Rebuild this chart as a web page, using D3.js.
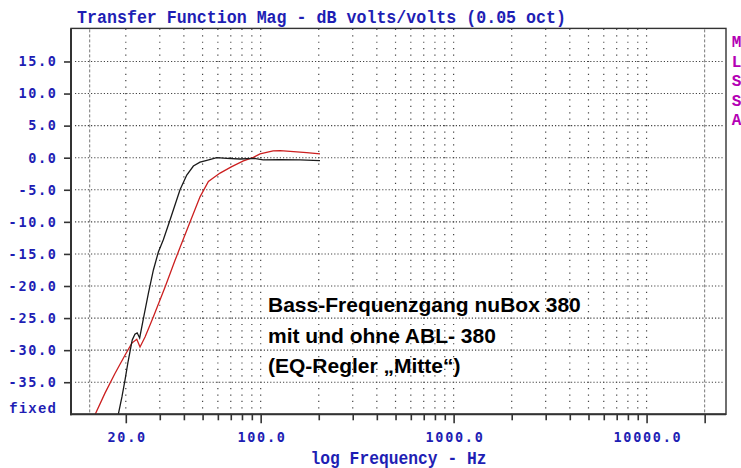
<!DOCTYPE html>
<html>
<head>
<meta charset="utf-8">
<script src="https://cdn.jsdelivr.net/npm/d3@7"></script>
<style>
  html, body { margin: 0; padding: 0; background: #fff; }
  svg { display: block; }
</style>
</head>
<body>
<script>
// ---------------- data ----------------
const seriesBlackFreq = [18.0, 19.1, 19.8, 20.5, 21.1, 21.6, 22.3, 22.9, 23.6, 24.7, 26.2, 27.8, 29.5, 31.3, 33.9, 38.2, 41.4, 44.8, 48.5, 52.6, 59.2, 66.7, 78.2, 91.7, 103, 126, 160, 203];
const seriesBlackDb   = [-41.0, -37.3, -34.7, -32.0, -30.0, -28.4, -27.5, -27.3, -28.1, -25.0, -21.1, -17.5, -14.7, -12.8, -9.7, -5.0, -2.7, -1.3, -0.7, -0.4, 0.0, -0.1, -0.2, -0.1, -0.35, -0.3, -0.35, -0.45];

const seriesRedFreq = [13.4, 15.6, 17.6, 19.8, 21.5, 22.8, 23.7, 25.2, 27.8, 32.0, 36.0, 38.2, 43.1, 48.5, 53.6, 61.6, 70.8, 81.4, 91.7, 99.3, 116, 126, 148, 173, 203];
const seriesRedDb   = [-41.0, -36.7, -33.6, -30.8, -28.9, -28.3, -29.5, -27.9, -24.8, -20.1, -16.0, -14.0, -10.0, -6.1, -3.7, -2.4, -1.4, -0.5, 0.05, 0.6, 1.05, 1.1, 0.95, 0.8, 0.6];

const yTickValues = [-35, -30, -25, -20, -15, -10, -5, 0, 5, 10, 15];
const xGridFreqs = [20, 30, 40, 50, 60, 70, 80, 90, 100, 200, 300, 400, 500, 600, 700, 800, 900, 1000, 2000, 3000, 4000, 5000, 6000, 7000, 8000, 9000, 10000];
const xTickFreqs = [20, 30, 40, 50, 60, 70, 80, 90, 100, 200, 300, 400, 500, 600, 700, 800, 900, 1000, 2000, 3000, 4000, 5000, 6000, 7000, 8000, 9000, 10000, 20000];
const xLabelFreqs = [20, 100, 1000, 10000];
const xMajorFreqs = [20, 100, 1000, 10000, 20000];
const dashedFreqs = [13, 20000];
const sideLetters = ["M", "L", "S", "S", "A"];
const titleText = "Transfer Function Mag - dB volts/volts (0.05 oct)";
const xAxisTitle = "log Frequency - Hz";
const bottomLabel = "fixed";
const noteLines = ["Bass-Frequenzgang nuBox 380", "mit und ohne ABL- 380", "(EQ-Regler \u201EMitte\u201C)"];

// ---------------- layout ----------------
const W = 741, H = 468;
const L = 71, R = 726, T = 29.4, B = 414.3;
const blue = "#1e1eb4";
const labelFont = "'DejaVu Sans Mono', monospace";
const ls = 1.7;

const svg = d3.select("body").append("svg").attr("width", W).attr("height", H);

const x = d3.scaleLog().domain([10.4, 25800]).range([L, R]);
const y = d3.scaleLinear().domain([-40, 20]).range([B, T]);
const pxPerDb = y(0) - y(1);

svg.append("defs").append("clipPath").attr("id", "plotclip")
  .append("rect").attr("x", L).attr("y", T).attr("width", R - L).attr("height", B - T);

// horizontal dotted grid
svg.append("g").selectAll("line").data(yTickValues).join("line")
  .attr("x1", L + 4).attr("x2", R - 3)
  .attr("y1", d => y(d)).attr("y2", d => y(d))
  .attr("stroke", "#444").attr("stroke-width", 1.1)
  .attr("stroke-dasharray", "1.2 2");

// vertical dotted grid: one dot per dB
svg.append("g").selectAll("line").data(xGridFreqs).join("line")
  .attr("x1", d => x(d)).attr("x2", d => x(d))
  .attr("y1", y(20) - 0.6).attr("y2", y(-40))
  .attr("stroke", "#444").attr("stroke-width", 1.2)
  .attr("stroke-dasharray", `1.2 ${pxPerDb - 1.2}`);

// dashed limit lines
svg.append("g").selectAll("line").data(dashedFreqs).join("line")
  .attr("x1", d => x(d)).attr("x2", d => x(d))
  .attr("y1", T).attr("y2", B)
  .attr("stroke", "#777").attr("stroke-width", 1)
  .attr("stroke-dasharray", "3 2");

// curves
const line = d3.line().x(d => x(d[0])).y(d => y(d[1]));
const g = svg.append("g").attr("clip-path", "url(#plotclip)");
g.append("path").datum(d3.zip(seriesRedFreq, seriesRedDb))
  .attr("d", line).attr("fill", "none").attr("stroke", "#cc2020").attr("stroke-width", 1.3);
g.append("path").datum(d3.zip(seriesBlackFreq, seriesBlackDb))
  .attr("d", line).attr("fill", "none").attr("stroke", "#1a1a1a").attr("stroke-width", 1.3);

// frame
svg.append("rect").attr("x", L).attr("y", T - 1).attr("width", R - L).attr("height", B - T + 1)
  .attr("fill", "none").attr("stroke", "#333").attr("stroke-width", 1.4);
svg.append("line").attr("x1", L).attr("x2", L).attr("y1", T - 1).attr("y2", B + 1)
  .attr("stroke", "#333").attr("stroke-width", 2);
svg.append("line").attr("x1", L - 1).attr("x2", R).attr("y1", B).attr("y2", B)
  .attr("stroke", "#333").attr("stroke-width", 2);

// left axis
const yAxis = d3.axisLeft(y).tickValues(yTickValues).tickSize(7).tickPadding(8)
  .tickFormat(d => d.toFixed(1));
const ya = svg.append("g").attr("transform", `translate(${L},0)`).call(yAxis);
ya.select(".domain").remove();
ya.selectAll(".tick line").attr("stroke", "#333").attr("stroke-width", 1.6);
ya.selectAll(".tick text")
  .attr("fill", blue).attr("font-family", labelFont).attr("font-weight", "bold")
  .attr("font-size", 13.5).attr("letter-spacing", ls + "px").attr("dx", ls);

svg.append("text").attr("x", L - 15 + 1.2).attr("y", y(-40) - 1)
  .attr("text-anchor", "end").attr("fill", blue)
  .attr("font-family", "'Liberation Mono', monospace").attr("font-weight", "bold")
  .attr("font-size", 14).attr("letter-spacing", "1.2px")
  .text(bottomLabel);

// bottom axis
const xAxis = d3.axisBottom(x).tickValues(xTickFreqs).tickSize(6)
  .tickFormat(d => xLabelFreqs.includes(d) ? d.toFixed(1) : "");
const xa = svg.append("g").attr("transform", `translate(0,${B})`).call(xAxis);
xa.select(".domain").remove();
xa.selectAll(".tick line").attr("stroke", "#333").attr("stroke-width", 1.6)
  .attr("y2", d => xMajorFreqs.includes(d) ? 9 : 6);
xa.selectAll(".tick text")
  .attr("fill", blue).attr("font-family", labelFont).attr("font-weight", "bold")
  .attr("font-size", 13.5).attr("letter-spacing", ls + "px").attr("dx", ls / 2)
  .attr("y", 23).attr("dy", "0.32em");

// titles
svg.append("text").attr("transform", "translate(77,22.5) scale(1,1.12)")
  .attr("fill", blue).attr("font-family", "'Liberation Mono', monospace").attr("font-weight", "bold")
  .attr("font-size", 16.3).attr("textLength", 489).attr("lengthAdjust", "spacingAndGlyphs")
  .text(titleText);

svg.append("text").attr("transform", `translate(${(L + R) / 2},464) scale(1,1.12)`)
  .attr("text-anchor", "middle")
  .attr("fill", blue).attr("font-family", "'Liberation Mono', monospace").attr("font-weight", "bold")
  .attr("font-size", 16.3)
  .text(xAxisTitle);

// MLSSA letters
svg.append("g").selectAll("text").data(sideLetters).join("text")
  .attr("x", 736.5).attr("y", (d, i) => 47 + i * 19.6)
  .attr("text-anchor", "middle")
  .attr("fill", "#b400b4").attr("font-family", "'Liberation Mono', monospace").attr("font-weight", "bold")
  .attr("font-size", 16)
  .text(d => d);

// annotation
svg.append("g").selectAll("text").data(noteLines).join("text")
  .attr("x", 268).attr("y", (d, i) => 311.7 + i * 30.8)
  .attr("fill", "#000").attr("font-family", "'Liberation Sans', Arial, sans-serif").attr("font-weight", "bold")
  .attr("font-size", 21)
  .text(d => d);
</script>
</body>
</html>
